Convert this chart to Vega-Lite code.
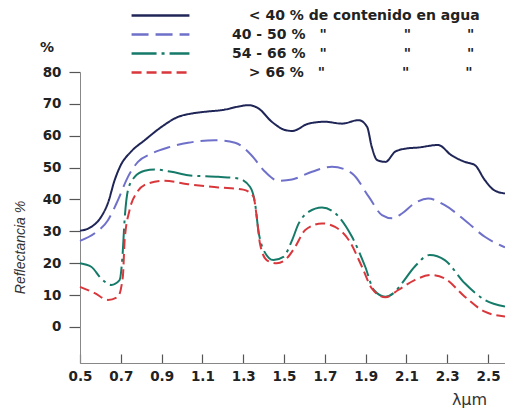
{
  "$schema": "https://vega.github.io/schema/vega-lite/v6.json",
  "width": 425,
  "height": 291,
  "autosize": {"type": "none"},
  "padding": {"left": 80, "top": 72, "right": 0, "bottom": 54},
  "background": "white",
  "title": {"text": "%", "anchor": "start", "frame": "group", "dx": -40, "offset": 20, "dy": 67, "font": "DejaVu Sans", "fontSize": 14, "fontWeight": "bold", "color": "#222"},
  "data": {"values": [
    {"x": 0.5, "y": 30.2, "s": "< 40 %"}, {"x": 0.555, "y": 31.4, "s": "< 40 %"}, {"x": 0.604, "y": 34.6, "s": "< 40 %"}, {"x": 0.637, "y": 38.9, "s": "< 40 %"}, {"x": 0.67, "y": 46.1, "s": "< 40 %"}, {"x": 0.7, "y": 50.8, "s": "< 40 %"}, {"x": 0.75, "y": 55, "s": "< 40 %"}, {"x": 0.817, "y": 58.6, "s": "< 40 %"}, {"x": 0.9, "y": 62.8, "s": "< 40 %"}, {"x": 0.98, "y": 65.9, "s": "< 40 %"}, {"x": 1.05, "y": 67, "s": "< 40 %"}, {"x": 1.11, "y": 67.5, "s": "< 40 %"}, {"x": 1.21, "y": 68.2, "s": "< 40 %"}, {"x": 1.28, "y": 69.2, "s": "< 40 %"}, {"x": 1.325, "y": 69.6, "s": "< 40 %"}, {"x": 1.374, "y": 68.6, "s": "< 40 %"}, {"x": 1.44, "y": 64.4, "s": "< 40 %"}, {"x": 1.505, "y": 61.8, "s": "< 40 %"}, {"x": 1.54, "y": 61.5, "s": "< 40 %"}, {"x": 1.62, "y": 63.8, "s": "< 40 %"}, {"x": 1.7, "y": 64.4, "s": "< 40 %"}, {"x": 1.784, "y": 63.8, "s": "< 40 %"}, {"x": 1.866, "y": 64.9, "s": "< 40 %"}, {"x": 1.907, "y": 62.8, "s": "< 40 %"}, {"x": 1.93, "y": 56.5, "s": "< 40 %"}, {"x": 1.956, "y": 52.4, "s": "< 40 %"}, {"x": 1.997, "y": 51.8, "s": "< 40 %"}, {"x": 2.045, "y": 55, "s": "< 40 %"}, {"x": 2.1, "y": 56, "s": "< 40 %"}, {"x": 2.157, "y": 56.3, "s": "< 40 %"}, {"x": 2.255, "y": 57.1, "s": "< 40 %"}, {"x": 2.32, "y": 53.9, "s": "< 40 %"}, {"x": 2.386, "y": 51.8, "s": "< 40 %"}, {"x": 2.435, "y": 50.8, "s": "< 40 %"}, {"x": 2.484, "y": 46.1, "s": "< 40 %"}, {"x": 2.53, "y": 42.9, "s": "< 40 %"}, {"x": 2.583, "y": 41.9, "s": "< 40 %"},
    {"x": 0.5, "y": 27, "s": "40 - 50 %"}, {"x": 0.572, "y": 29.4, "s": "40 - 50 %"}, {"x": 0.637, "y": 33.5, "s": "40 - 50 %"}, {"x": 0.686, "y": 39.8, "s": "40 - 50 %"}, {"x": 0.735, "y": 47.1, "s": "40 - 50 %"}, {"x": 0.784, "y": 51.8, "s": "40 - 50 %"}, {"x": 0.85, "y": 54.4, "s": "40 - 50 %"}, {"x": 0.931, "y": 56.3, "s": "40 - 50 %"}, {"x": 1.03, "y": 57.8, "s": "40 - 50 %"}, {"x": 1.16, "y": 58.6, "s": "40 - 50 %"}, {"x": 1.26, "y": 57.8, "s": "40 - 50 %"}, {"x": 1.34, "y": 53.9, "s": "40 - 50 %"}, {"x": 1.407, "y": 48.7, "s": "40 - 50 %"}, {"x": 1.472, "y": 45.9, "s": "40 - 50 %"}, {"x": 1.539, "y": 46.3, "s": "40 - 50 %"}, {"x": 1.637, "y": 48.7, "s": "40 - 50 %"}, {"x": 1.735, "y": 50.3, "s": "40 - 50 %"}, {"x": 1.833, "y": 48.2, "s": "40 - 50 %"}, {"x": 1.915, "y": 40.9, "s": "40 - 50 %"}, {"x": 1.98, "y": 35.1, "s": "40 - 50 %"}, {"x": 2.03, "y": 34.1, "s": "40 - 50 %"}, {"x": 2.078, "y": 35.6, "s": "40 - 50 %"}, {"x": 2.14, "y": 38.8, "s": "40 - 50 %"}, {"x": 2.206, "y": 40.3, "s": "40 - 50 %"}, {"x": 2.288, "y": 38.2, "s": "40 - 50 %"}, {"x": 2.386, "y": 33.5, "s": "40 - 50 %"}, {"x": 2.484, "y": 28.3, "s": "40 - 50 %"}, {"x": 2.583, "y": 25, "s": "40 - 50 %"},
    {"x": 0.5, "y": 20, "s": "54 - 66 %"}, {"x": 0.555, "y": 18.9, "s": "54 - 66 %"}, {"x": 0.604, "y": 15.2, "s": "54 - 66 %"}, {"x": 0.653, "y": 13.2, "s": "54 - 66 %"}, {"x": 0.694, "y": 14.7, "s": "54 - 66 %"}, {"x": 0.708, "y": 22, "s": "54 - 66 %"}, {"x": 0.719, "y": 34, "s": "54 - 66 %"}, {"x": 0.735, "y": 42.9, "s": "54 - 66 %"}, {"x": 0.768, "y": 47.1, "s": "54 - 66 %"}, {"x": 0.817, "y": 49, "s": "54 - 66 %"}, {"x": 0.866, "y": 49.4, "s": "54 - 66 %"}, {"x": 0.948, "y": 48.7, "s": "54 - 66 %"}, {"x": 1.03, "y": 47.6, "s": "54 - 66 %"}, {"x": 1.178, "y": 47.1, "s": "54 - 66 %"}, {"x": 1.276, "y": 46.6, "s": "54 - 66 %"}, {"x": 1.333, "y": 44, "s": "54 - 66 %"}, {"x": 1.358, "y": 38.8, "s": "54 - 66 %"}, {"x": 1.374, "y": 30.4, "s": "54 - 66 %"}, {"x": 1.4, "y": 24.1, "s": "54 - 66 %"}, {"x": 1.448, "y": 21, "s": "54 - 66 %"}, {"x": 1.497, "y": 22, "s": "54 - 66 %"}, {"x": 1.538, "y": 27, "s": "54 - 66 %"}, {"x": 1.572, "y": 32.5, "s": "54 - 66 %"}, {"x": 1.62, "y": 36.1, "s": "54 - 66 %"}, {"x": 1.686, "y": 37.5, "s": "54 - 66 %"}, {"x": 1.768, "y": 34.6, "s": "54 - 66 %"}, {"x": 1.833, "y": 28.3, "s": "54 - 66 %"}, {"x": 1.898, "y": 18.9, "s": "54 - 66 %"}, {"x": 1.94, "y": 11.6, "s": "54 - 66 %"}, {"x": 1.997, "y": 9.5, "s": "54 - 66 %"}, {"x": 2.045, "y": 11.1, "s": "54 - 66 %"}, {"x": 2.078, "y": 13.7, "s": "54 - 66 %"}, {"x": 2.14, "y": 18.9, "s": "54 - 66 %"}, {"x": 2.214, "y": 22.6, "s": "54 - 66 %"}, {"x": 2.288, "y": 21, "s": "54 - 66 %"}, {"x": 2.386, "y": 13.7, "s": "54 - 66 %"}, {"x": 2.484, "y": 8.5, "s": "54 - 66 %"}, {"x": 2.583, "y": 6.4, "s": "54 - 66 %"},
    {"x": 0.5, "y": 12.6, "s": "> 66 %"}, {"x": 0.572, "y": 10.6, "s": "> 66 %"}, {"x": 0.637, "y": 8.5, "s": "> 66 %"}, {"x": 0.686, "y": 9.5, "s": "> 66 %"}, {"x": 0.71, "y": 15.8, "s": "> 66 %"}, {"x": 0.719, "y": 27.3, "s": "> 66 %"}, {"x": 0.743, "y": 36.7, "s": "> 66 %"}, {"x": 0.776, "y": 41.9, "s": "> 66 %"}, {"x": 0.833, "y": 45, "s": "> 66 %"}, {"x": 0.915, "y": 45.9, "s": "> 66 %"}, {"x": 1.03, "y": 44.8, "s": "> 66 %"}, {"x": 1.178, "y": 43.8, "s": "> 66 %"}, {"x": 1.3, "y": 43.1, "s": "> 66 %"}, {"x": 1.35, "y": 40.9, "s": "> 66 %"}, {"x": 1.366, "y": 34.6, "s": "> 66 %"}, {"x": 1.382, "y": 26.2, "s": "> 66 %"}, {"x": 1.415, "y": 21, "s": "> 66 %"}, {"x": 1.464, "y": 20, "s": "> 66 %"}, {"x": 1.513, "y": 21.5, "s": "> 66 %"}, {"x": 1.555, "y": 25.2, "s": "> 66 %"}, {"x": 1.604, "y": 30.4, "s": "> 66 %"}, {"x": 1.686, "y": 32.5, "s": "> 66 %"}, {"x": 1.75, "y": 31.4, "s": "> 66 %"}, {"x": 1.817, "y": 27.3, "s": "> 66 %"}, {"x": 1.882, "y": 18.9, "s": "> 66 %"}, {"x": 1.93, "y": 12.1, "s": "> 66 %"}, {"x": 1.997, "y": 9.3, "s": "> 66 %"}, {"x": 2.06, "y": 11.6, "s": "> 66 %"}, {"x": 2.14, "y": 14.7, "s": "> 66 %"}, {"x": 2.222, "y": 16.3, "s": "> 66 %"}, {"x": 2.288, "y": 15.2, "s": "> 66 %"}, {"x": 2.386, "y": 9.5, "s": "> 66 %"}, {"x": 2.484, "y": 4.8, "s": "> 66 %"}, {"x": 2.583, "y": 3.3, "s": "> 66 %"}
  ]},
  "mark": {"type": "line", "interpolate": "monotone", "strokeWidth": 2, "clip": false},
  "encoding": {
    "x": {
      "field": "x", "type": "quantitative",
      "scale": {"domain": [0.5, 2.583], "nice": false, "zero": false},
      "axis": {
        "values": [0.5, 0.7, 0.9, 1.1, 1.3, 1.5, 1.7, 1.9, 2.1, 2.3, 2.5],
        "format": ".1f",
        "grid": false,
        "tickSize": -9,
        "tickColor": "#555",
        "tickWidth": 1.2,
        "domainColor": "#888",
        "labelPadding": 15,
        "labelFont": "DejaVu Sans",
        "labelFontWeight": "bold",
        "labelFontSize": 13.5,
        "labelColor": "#222",
        "labelFlush": false,
        "labelOverlap": false,
        "title": "λμm",
        "titleFont": "DejaVu Sans",
        "titleFontWeight": "normal",
        "titleFontSize": 16,
        "titleColor": "#333",
        "titleX": 389,
        "titleY": 36,
        "titleAlign": "center",
        "titleBaseline": "middle"
      }
    },
    "y": {
      "field": "y", "type": "quantitative",
      "scale": {"domain": [-11.3, 80], "nice": false, "zero": false},
      "axis": {
        "values": [0, 10, 20, 30, 40, 50, 60, 70, 80],
        "grid": false,
        "tickSize": 11,
        "tickColor": "#555",
        "tickWidth": 1.2,
        "domainColor": "#888",
        "labelPadding": 8,
        "labelFont": "DejaVu Sans",
        "labelFontWeight": "bold",
        "labelFontSize": 13.5,
        "labelColor": "#222",
        "title": "Reflectancia %",
        "titleFont": "Liberation Sans",
        "titleFontStyle": "italic",
        "titleFontWeight": "normal",
        "titleFontSize": 14,
        "titleColor": "#333",
        "titleX": -60,
        "titleY": 175,
        "titleAlign": "center",
        "titleBaseline": "middle"
      }
    },
    "color": {
      "field": "s", "type": "nominal",
      "scale": {"domain": ["< 40 %", "40 - 50 %", "54 - 66 %", "> 66 %"], "range": ["#1f2657", "#6e70c9", "#167a69", "#d8383c"]},
      "legend": {"title": null, "labelExpr": "datum.label == '< 40 %' ? '\u200b\u2002\u2002\u2009< 40 % de contenido en agua' : datum.label == '> 66 %' ? '\u200b\u2002\u2002\u2009> 66 %\u2003\"\u2003\u2003\u2003\u2003\u2003\u2002\"\u2003\u2003\u2003\u2003\"' : datum.label + '\u2003\"\u2003\u2003\u2003\u2003\u2003\u2002\"\u2003\u2003\u2003\u2003\"'"}
    },
    "strokeDash": {
      "field": "s", "type": "nominal",
      "scale": {"domain": ["< 40 %", "40 - 50 %", "54 - 66 %", "> 66 %"], "range": [[1, 0], [17, 7], [25, 5, 3, 5], [10, 5]]},
      "legend": {"title": null, "labelExpr": "datum.label == '< 40 %' ? '\u200b\u2002\u2002\u2009< 40 % de contenido en agua' : datum.label == '> 66 %' ? '\u200b\u2002\u2002\u2009> 66 %\u2003\"\u2003\u2003\u2003\u2003\u2003\u2002\"\u2003\u2003\u2003\u2003\"' : datum.label + '\u2003\"\u2003\u2003\u2003\u2003\u2003\u2002\"\u2003\u2003\u2003\u2003\"'"}
    }
  },
  "config": {
    "view": {"stroke": null},
    "legend": {
      "orient": "none",
      "legendX": 73,
      "legendY": -64,
      "symbolType": "M-5,0H5",
      "symbolSize": 134,
      "symbolStrokeWidth": 2.5,
      "labelOffset": 64,
      "labelFont": "DejaVu Sans",
      "labelFontSize": 14,
      "labelFontWeight": "bold",
      "labelColor": "#222",
      "labelLimit": 500,
      "labelBaseline": "middle",
      "rowPadding": 4,
      "padding": 0
    }
  }
}
